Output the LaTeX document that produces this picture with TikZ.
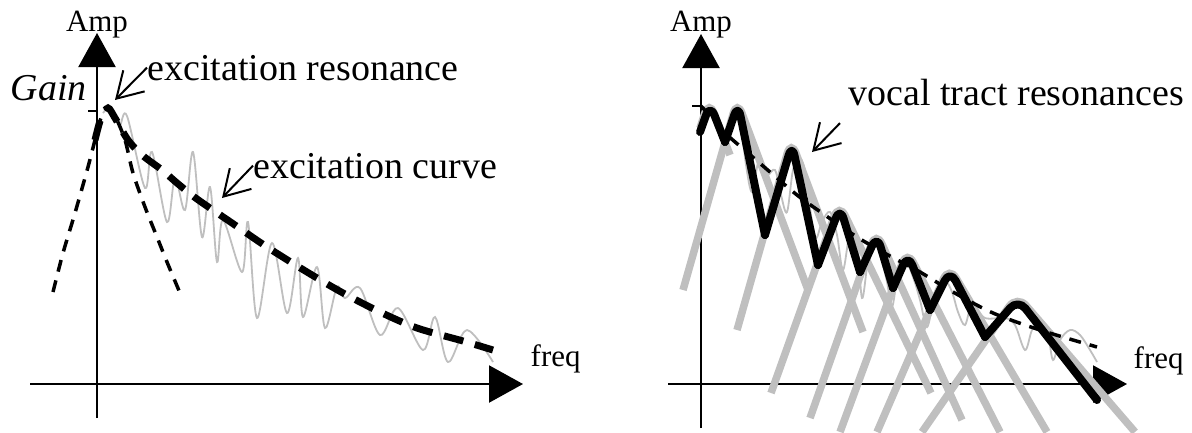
\documentclass[tikz,border=0pt]{standalone}
\usepackage{fontspec}
\setmainfont{Liberation Serif}
\usetikzlibrary{arrows.meta,calc}

\begin{document}
\begin{tikzpicture}[x=0.1mm, y=-0.1mm,
  axis/.style={line width=0.22mm, -{Triangle[length=3.4mm,width=3.7mm]}},
  lbl/.style={font=\fontsize{10.8}{13}\selectfont, inner sep=0pt},
  axlbl/.style={font=\fontsize{8.8}{11}\selectfont, inner sep=0pt},
  pointer/.style={line width=0.2mm, -{Straight Barb[length=2.5mm,width=3mm]}},
  spectrum/.style={line width=0.18mm, black!25},
  excurve/.style={line width=0.7mm, dash pattern=on 2mm off 1.2mm},
  thindash/.style={line width=0.35mm, dash pattern=on 1.2mm off 0.9mm},
  formant/.style={line width=0.75mm, black!25, rounded corners=1.4mm},
  envelope/.style={line width=0.8mm, rounded corners=1.2mm, line join=round, line cap=round}
]
\useasboundingbox (0,0) rectangle (1192,432);

% left: excitation
\coordinate (lxs) at (30,384);
\coordinate (lxe) at (523,384);
\coordinate (lys) at (97,418);
\coordinate (lye) at (97,33);
\draw[axis] (lxs) -- (lxe);
\draw[axis] (lys) -- (lye);
\draw[line width=0.2mm] (88,111) -- (97,111);

\node[axlbl, anchor=base] (lamp) at (97,31) {Amp};
\node[lbl, anchor=base west] (gain) at (10,100) {\textit{Gain}};
\node[lbl, anchor=base west] (exres) at (147,80) {excitation resonance};
\node[lbl, anchor=base west] (excurv) at (253,178) {excitation curve};
\node[axlbl, anchor=base west] (lfreq) at (530,366) {freq};

\draw[spectrum] plot[smooth, tension=0.55] coordinates {(103,113) (109,108) (115,117) (120,125) (127,116)
  (145,188) (152,152) (167,222) (175,178) (185,210) (193,152) (202,237) (210,187) (217,262) (223,220)
  (242,272) (248,222) (257,318) (272,243) (287,313) (298,258) (303,317) (317,267) (325,328) (337,287)
  (345,298) (360,288) (380,335) (398,308) (423,350) (435,317) (448,362) (467,330) (493,362)};
\draw[thindash] plot[smooth] coordinates {(53,292) (63,253) (75,213) (88,167) (95,140) (101,118) (108,108)
  (115,116) (125,140) (133,173) (145,207) (157,237) (167,262) (180,293)};
\draw[excurve] plot[smooth] coordinates {(95,140) (101,118) (108,108) (115,118) (128,140) (142,155)
  (162,170) (177,183) (197,199) (232,223) (267,247) (307,272) (343,293) (380,312) (417,328) (463,341) (493,350)};

\coordinate (exrestip) at (115,100);
\coordinate (excurvtip) at (222,198);
\draw[pointer] (exres.west) -- (exrestip);
\draw[pointer] (excurv.west) -- (excurvtip);

% right: vocal tract
\coordinate (rxs) at (668,384);
\coordinate (rxe) at (1127,384);
\coordinate (rys) at (701,428);
\coordinate (rye) at (701,34);
\draw[axis] (rxs) -- (rxe);
\draw[axis] (rys) -- (rye);

\node[axlbl, anchor=base] (ramp) at (701,31) {Amp};
\node[lbl, anchor=base west] (vtr) at (848,105) {vocal tract resonances};
\node[axlbl, anchor=base west] (rfreq) at (1133,368) {freq};

\foreach \lx/\ly/\px/\py/\rx/\ry in {700/128/709/100/730/155, 683/290/737/100/808/290,
    737/330/791/140/863/332, 771/393/839/203/931/393, 810/418/876/231/962/420,
    840/432/907/250/1000/432, 877/432/949/266/1047/432, 922/432/1017/295/1135/432}
  \draw[formant] (\lx,\ly) -- (\px,\py) -- (\rx,\ry);

\draw[spectrum] plot[smooth, tension=0.55] coordinates {(702,115) (710,108) (718,125) (725,138) (733,112)
  (740,118) (746,165) (752,192) (759,160) (767,175) (775,170) (781,195) (787,212) (793,170) (800,158)
  (806,175) (811,215) (816,238) (822,222) (830,212) (837,235) (843,270) (850,232) (857,240) (862,298)
  (868,262) (876,246) (882,262) (887,282) (892,307) (898,275) (906,262) (914,280) (920,300) (927,327)
  (934,300) (945,282) (952,292) (958,312) (965,325) (972,305) (985,318) (1005,318) (1015,325) (1025,350)
  (1032,330) (1040,322) (1048,335) (1053,360) (1060,340) (1070,330) (1080,335) (1090,350) (1097,362)};
\draw[line width=0.2mm] (692,106) -- (701,106);
\draw[thindash] plot[smooth] coordinates {(701,106) (712,118) (725,133) (748,153) (770,172) (797,195)
  (822,213) (857,237) (888,255) (920,272) (953,292) (993,313) (1040,330) (1097,347)};

\foreach \va/\pk/\vb in {{(700,132)}/{(710,104)}/{(725,142)}, {(725,142)}/{(738,104)}/{(765,235)},
    {(765,235)}/{(792,144)}/{(818,265)}, {(818,265)}/{(840,207)}/{(860,272)},
    {(860,272)}/{(877,235)}/{(893,288)}, {(893,288)}/{(908,254)}/{(930,310)},
    {(930,310)}/{(950,270)}/{(985,337)}, {(985,337)}/{(1018,299)}/{(1097,400)}}
  \draw[envelope] \va -- \pk -- \vb;

\coordinate (vtrtip) at (812,152);
\draw[pointer] ([shift={(-8,17)}]vtr.south west) -- (vtrtip);
\end{tikzpicture}
\end{document}
